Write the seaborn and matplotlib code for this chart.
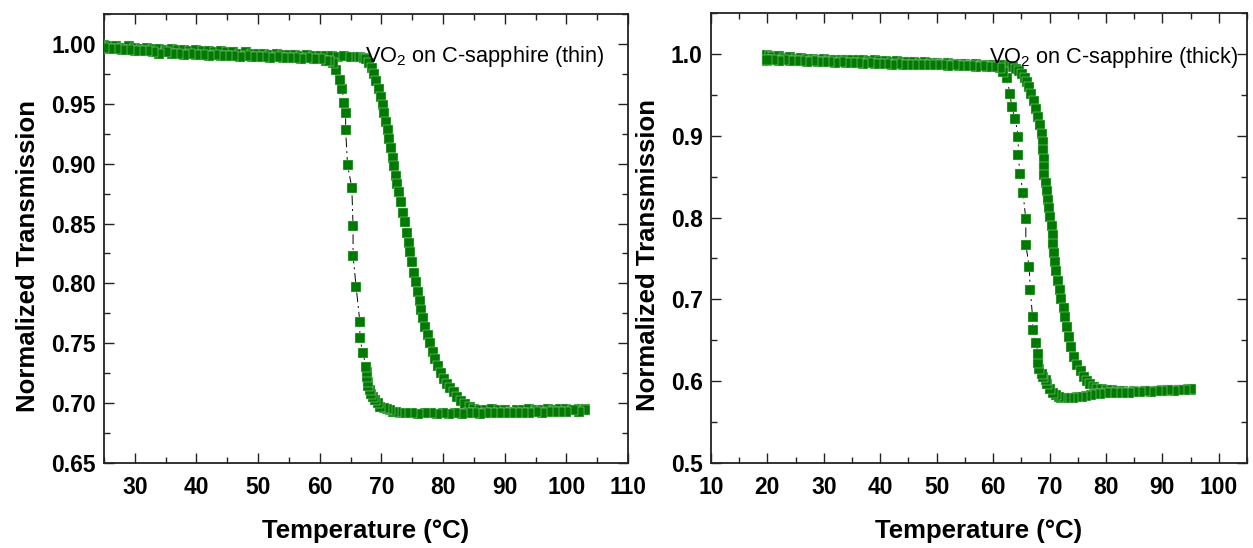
import matplotlib
matplotlib.use("Agg")
import matplotlib.pyplot as plt
from matplotlib.ticker import MultipleLocator, FormatStrFormatter
import pandas as pd
import seaborn as sns

# ---------------- thin film: heating branch ----------------
thin_heat_T = [25, 26, 27, 28, 29, 30, 31, 32, 33, 34, 35, 36, 37, 38, 39, 40, 41, 42, 43, 44,
               45, 46, 47, 48, 49, 50, 51, 52, 53, 54, 55, 56, 57, 58, 59, 60, 61, 62, 63, 64,
               65, 66, 66.6, 67.1, 67.5, 68.0, 68.4, 68.8, 69.2, 69.6, 69.9, 70.2, 70.5, 70.8,
               71.0, 71.2, 71.5, 71.8, 72.0, 72.3, 72.6, 72.9, 73.2, 73.5, 73.8, 74.1, 74.4,
               74.7, 75.0, 75.3, 75.6, 75.9, 76.2, 76.5, 76.8, 77.1, 77.5, 77.9, 78.3, 78.7,
               79.1, 79.6, 80.1, 80.6, 81.1, 81.7, 82.3, 82.9, 83.6, 84.3, 85.0, 86, 87, 88,
               89, 90, 91, 92, 93, 94, 95, 96, 97, 98, 99, 100, 101, 102, 103]
thin_heat_v = [0.999, 0.998, 0.998, 0.997, 0.998, 0.997, 0.996, 0.997, 0.996, 0.996, 0.995,
               0.996, 0.995, 0.995, 0.994, 0.995, 0.994, 0.994, 0.993, 0.994, 0.993, 0.993,
               0.992, 0.993, 0.992, 0.992, 0.992, 0.991, 0.992, 0.991, 0.991, 0.991, 0.990,
               0.991, 0.990, 0.990, 0.990, 0.990, 0.989, 0.990, 0.989, 0.989, 0.989, 0.988,
               0.987, 0.984, 0.980, 0.975, 0.969, 0.962, 0.956, 0.949, 0.942, 0.935, 0.928,
               0.921, 0.913, 0.905, 0.898, 0.890, 0.883, 0.876, 0.868, 0.859, 0.851, 0.842,
               0.834, 0.826, 0.818, 0.809, 0.801, 0.793, 0.785, 0.778, 0.771, 0.764, 0.757,
               0.750, 0.743, 0.737, 0.731, 0.725, 0.720, 0.716, 0.713, 0.709, 0.705, 0.702,
               0.699, 0.697, 0.695, 0.694, 0.694, 0.695, 0.694, 0.694, 0.693, 0.694, 0.694,
               0.695, 0.694, 0.694, 0.695, 0.694, 0.695, 0.695, 0.694, 0.695, 0.695]

# ---------------- thin film: cooling branch ----------------
thin_cool_T = [103, 102, 101, 100, 99, 98, 97, 96, 95, 94, 93, 92, 91, 90, 89, 88, 87, 86, 85,
               84, 83, 82, 81, 80, 79, 78, 77, 76, 75, 74, 73, 72.4, 71.9, 71.4, 70.9, 70.4,
               69.8, 69.4, 69.0, 68.6, 68.3, 68.1, 67.9, 67.8, 67.7, 67.6, 67.5, 67.0, 66.5,
               66.5, 65.9, 65.4, 65.4, 65.2, 64.5, 64.2, 64.2, 64.0, 63.6, 63.3, 62.7, 62.2,
               61.5, 61.0, 60, 59, 58, 57, 56, 55, 54, 53, 52, 51, 50, 49, 48, 47, 46, 45, 44,
               43, 42, 41, 40, 39, 38, 37, 36, 35, 34, 33, 32, 31, 30, 29, 28, 27, 26, 25]
thin_cool_v = [0.694, 0.693, 0.694, 0.693, 0.693, 0.693, 0.693, 0.692, 0.693, 0.692, 0.692,
               0.692, 0.692, 0.692, 0.692, 0.692, 0.692, 0.691, 0.692, 0.692, 0.691, 0.692,
               0.691, 0.692, 0.691, 0.692, 0.692, 0.691, 0.692, 0.692, 0.692, 0.693, 0.693,
               0.694, 0.695, 0.696, 0.697, 0.700, 0.703, 0.705, 0.708, 0.711, 0.714, 0.718,
               0.722, 0.726, 0.730, 0.742, 0.754, 0.768, 0.797, 0.823, 0.848, 0.880, 0.899,
               0.928, 0.942, 0.951, 0.962, 0.970, 0.978, 0.984, 0.986, 0.986, 0.987, 0.987,
               0.988, 0.987, 0.988, 0.988, 0.988, 0.989, 0.988, 0.989, 0.989, 0.989, 0.990,
               0.989, 0.990, 0.990, 0.990, 0.991, 0.990, 0.991, 0.991, 0.992, 0.991, 0.992,
               0.992, 0.993, 0.992, 0.993, 0.994, 0.994, 0.994, 0.995, 0.995, 0.996, 0.996,
               0.997]

# ---------------- thick film: heating branch ----------------
thick_heat_T = [20.0, 20.0, 20.0, 20.5, 21, 22, 23, 24, 25, 26, 27, 28, 29, 30, 31, 32, 33, 34,
                35, 36, 37, 38, 39, 40, 41, 42, 43, 44, 45, 46, 47, 48, 49, 50, 51, 52, 53, 54,
                55, 56, 57, 58, 59, 60, 61, 62, 63, 63.6, 64.1, 64.6, 65.1, 65.6, 66.0, 66.4,
                66.8, 67.2, 67.6, 68.0, 68.3, 68.6, 68.8, 68.9, 69.0, 69.0, 69.1, 69.3, 69.5,
                69.7, 69.9, 70.1, 70.4, 70.6, 70.7, 70.8, 71.0, 71.2, 71.5, 71.8, 72.1, 72.5,
                72.8, 73.1, 73.4, 73.8, 74.3, 74.9, 75.5, 76.1, 76.6, 77.2, 77.8, 78.5, 79.3,
                80.2, 81, 82, 83, 84, 85, 86, 87, 88, 89, 90, 91, 92, 93, 94, 94.5, 95]
thick_heat_v = [0.991, 0.995, 0.999, 0.997, 0.996, 0.997, 0.995, 0.996, 0.994, 0.995, 0.994,
                0.994, 0.993, 0.994, 0.993, 0.993, 0.992, 0.993, 0.992, 0.992, 0.992, 0.991,
                0.992, 0.991, 0.991, 0.990, 0.991, 0.990, 0.990, 0.990, 0.989, 0.990, 0.989,
                0.989, 0.988, 0.989, 0.988, 0.988, 0.988, 0.987, 0.988, 0.987, 0.987, 0.986,
                0.986, 0.986, 0.985, 0.984, 0.982, 0.979, 0.976, 0.971, 0.966, 0.959, 0.951,
                0.943, 0.933, 0.923, 0.913, 0.902, 0.892, 0.882, 0.872, 0.862, 0.852, 0.842,
                0.832, 0.822, 0.812, 0.801, 0.790, 0.779, 0.768, 0.757, 0.746, 0.735, 0.723,
                0.712, 0.701, 0.690, 0.678, 0.666, 0.654, 0.642, 0.630, 0.620, 0.612, 0.605,
                0.600, 0.596, 0.593, 0.591, 0.590, 0.589, 0.589, 0.588, 0.588, 0.587, 0.588,
                0.587, 0.588, 0.588, 0.588, 0.589, 0.588, 0.589, 0.589, 0.589, 0.590, 0.589]

# ---------------- thick film: cooling branch ----------------
thick_cool_T = [95, 94, 93, 92, 91, 90, 89, 88, 87, 86, 85, 84, 83, 82, 81, 80, 79, 78, 77.3,
                76.5, 75.7, 74.9, 74.2, 73.5, 72.8, 72.1, 71.6, 71.1, 70.6, 70.1, 69.6, 69.3,
                68.9, 68.6, 68.2, 67.9, 68.0, 67.6, 67.0, 67.0, 66.6, 66.4, 65.8, 65.8, 65.3,
                64.8, 64.4, 64.5, 63.9, 63.3, 63.0, 62.4, 61.8, 61.2, 60, 59, 58, 57, 56, 55,
                54, 53, 52, 51, 50, 49, 48, 47, 46, 45, 44, 43, 42, 41, 40, 39, 38, 37, 36, 35,
                34, 33, 32, 31, 30, 29, 28, 27, 26, 25, 24, 23, 22, 21, 20]
thick_cool_v = [0.590, 0.589, 0.589, 0.588, 0.589, 0.588, 0.588, 0.587, 0.588, 0.587, 0.587,
                0.586, 0.586, 0.586, 0.585, 0.585, 0.584, 0.584, 0.583, 0.582, 0.581, 0.581,
                0.580, 0.580, 0.580, 0.580, 0.581, 0.583, 0.586, 0.591, 0.596, 0.601, 0.605,
                0.609, 0.615, 0.622, 0.633, 0.647, 0.662, 0.678, 0.711, 0.739, 0.767, 0.798,
                0.830, 0.853, 0.877, 0.898, 0.921, 0.935, 0.951, 0.971, 0.978, 0.983, 0.984,
                0.984, 0.985, 0.984, 0.985, 0.985, 0.985, 0.986, 0.985, 0.986, 0.986, 0.986,
                0.987, 0.986, 0.987, 0.987, 0.987, 0.988, 0.987, 0.988, 0.988, 0.988, 0.989,
                0.988, 0.989, 0.989, 0.989, 0.990, 0.989, 0.990, 0.990, 0.990, 0.991, 0.990,
                0.991, 0.991, 0.991, 0.992, 0.991, 0.992, 0.992]

panel_titles = ["VO$_2$ on C-sapphire (thin)", "VO$_2$ on C-sapphire (thick)"]
x_label = "Temperature (°C)"
y_label = "Normalized Transmission"

sns.set_theme(style="ticks")
plt.rcParams["font.family"] = ["Liberation Sans", "DejaVu Sans"]
plt.rcParams["mathtext.fontset"] = "custom"
plt.rcParams["mathtext.rm"] = "Liberation Sans"
plt.rcParams["mathtext.it"] = "Liberation Sans:italic"
plt.rcParams["mathtext.bf"] = "Liberation Sans:bold"

GREEN = "#007a00"


def sweep_frame(heat_T, heat_v, cool_T, cool_v):
    heat = pd.DataFrame({"T": heat_T, "trans": heat_v, "branch": "heating"})
    cool = pd.DataFrame({"T": cool_T, "trans": cool_v, "branch": "cooling"})
    return pd.concat([heat, cool], ignore_index=True)


def draw_panel(ax, df, xlim, ylim, xmaj, ymaj, yfmt, title, title_xy):
    # measurement order traced by a thin dash-dot line, squares on top
    sns.lineplot(data=df, x="T", y="trans", sort=False, estimator=None, ax=ax,
                 color="black", linewidth=0.7, linestyle=(0, (10, 4, 2, 4)), zorder=2)
    sns.scatterplot(data=df, x="T", y="trans", marker="s", s=44, color=GREEN,
                    edgecolor="#cfe6cf", linewidth=0.3, ax=ax, zorder=3, legend=False)
    ax.set_xlim(*xlim)
    ax.set_ylim(*ylim)
    ax.xaxis.set_major_locator(MultipleLocator(xmaj))
    ax.xaxis.set_minor_locator(MultipleLocator(xmaj / 2))
    ax.yaxis.set_major_locator(MultipleLocator(ymaj))
    ax.yaxis.set_minor_locator(MultipleLocator(ymaj / 2))
    ax.yaxis.set_major_formatter(FormatStrFormatter(yfmt))
    ax.tick_params(which="both", direction="in", top=True, right=True,
                   color="#222222", width=1.0)
    ax.tick_params(which="major", length=7)
    ax.tick_params(which="minor", length=4)
    ax.tick_params(axis="x", which="major", pad=9)
    ax.tick_params(axis="y", which="major", pad=6)
    for lab in ax.get_xticklabels() + ax.get_yticklabels():
        lab.set_fontsize(16.5)
        lab.set_fontweight("bold")
        lab.set_color("black")
    for sp in ax.spines.values():
        sp.set_linewidth(1.3)
        sp.set_color("#222222")
    ax.set_xlabel(x_label, fontsize=18.5, fontweight="bold", labelpad=15, color="black")
    ax.set_ylabel(y_label, fontsize=18.5, fontweight="bold", labelpad=8, color="black")
    ax.yaxis.label.set_y(0.462)
    ax.text(title_xy[0], title_xy[1], title, fontsize=15.7, ha="left", va="baseline",
            color="black", zorder=4)


fig = plt.figure(figsize=(12.53, 5.48), dpi=100)
ax_thin = fig.add_axes([104 / 1253, 85 / 548, 524 / 1253, 449 / 548])
ax_thick = fig.add_axes([711 / 1253, 85 / 548, 536 / 1253, 450 / 548])

draw_panel(ax_thin, sweep_frame(thin_heat_T, thin_heat_v, thin_cool_T, thin_cool_v),
           (25, 110), (0.65, 1.025), 10, 0.05, "%.2f", panel_titles[0], (67.3, 0.985))
draw_panel(ax_thick, sweep_frame(thick_heat_T, thick_heat_v, thick_cool_T, thick_cool_v),
           (10, 105), (0.5, 1.05), 10, 0.1, "%.1f", panel_titles[1], (59.3, 0.9894))

fig.savefig("out.png", dpi=100, facecolor="white")
